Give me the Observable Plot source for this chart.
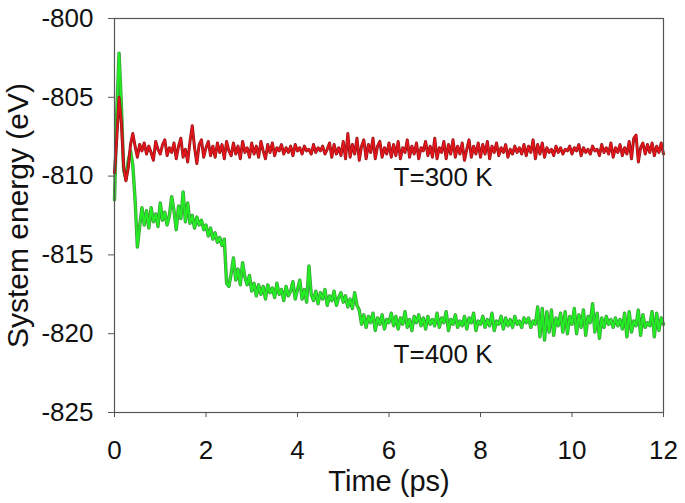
<!DOCTYPE html>
<html>
<head>
<meta charset="utf-8">
<script src="https://cdn.jsdelivr.net/npm/d3@7"></script>
<script src="https://cdn.jsdelivr.net/npm/@observablehq/plot@0.6"></script>
<style>
  html, body { margin: 0; padding: 0; background: #fff; }
  #chart { width: 685px; height: 503px; }
  svg { font-family: "Liberation Sans", Arial, sans-serif; }
</style>
</head>
<body>
<div id="chart"></div>
<script>
// ---- data ----
const timeStep = 0.05; // ps between samples
const xTicks = [0, 2, 4, 6, 8, 10, 12];
const yTicks = [-800, -805, -810, -815, -820, -825];
const xLabel = "Time (ps)";
const yLabel = "System energy (eV)";
const seriesNames = ["T=300 K", "T=400 K"];
const seriesColors = ["#e5141b", "#22ee22"];
const seriesEdge = ["#8c1a1a", "#3f9b3f"];
const annotX = [6.1, 6.1];
const annotY = [-810.1, -821.3];

const energy300 = [
  -809.8, -807.6, -805.0, -806.6, -809.4, -810.3, -809.5, -808.0, -807.3, -808.1, -808.8, -808.0, -808.4, -807.9, -808.6, -808.1, -808.5, -809.0, -807.8, -808.3,
  -808.6, -808.0, -807.7, -808.7, -808.2, -808.5, -807.9, -808.9, -808.1, -807.6, -808.8, -808.3, -809.1, -807.8, -806.8, -808.2, -809.2, -808.0, -807.7, -808.8,
  -808.2, -807.8, -808.7, -808.1, -808.8, -807.9, -808.5, -808.0, -808.9, -807.8, -808.4, -808.7, -807.9, -808.6, -808.1, -808.9, -807.8, -808.5, -808.2, -808.8,
  -807.9, -808.6, -808.1, -808.8, -807.8, -808.4, -808.9, -808.0, -808.5, -807.9, -808.7, -808.2, -808.4, -808.0, -808.6, -808.2, -808.5, -808.1, -808.7, -808.0,
  -808.4, -808.2, -808.6, -808.1, -808.4, -808.3, -808.6, -808.0, -808.5, -808.2, -808.4, -808.1, -808.6, -808.3, -807.9, -808.8, -808.0, -808.6, -808.2, -808.7,
  -807.8, -808.9, -807.3, -808.8, -808.0, -808.6, -807.6, -809.0, -808.1, -807.7, -808.9, -808.0, -808.5, -807.6, -808.9, -808.1, -807.8, -808.8, -808.2, -808.6,
  -807.9, -808.8, -808.0, -808.7, -807.8, -808.9, -808.2, -808.5, -807.7, -808.8, -808.1, -808.6, -807.9, -808.9, -808.2, -808.4, -807.8, -808.7, -808.1, -808.8,
  -807.6, -808.9, -808.2, -808.5, -807.8, -808.9, -808.0, -808.6, -807.7, -808.8, -808.1, -808.6, -807.9, -809.0, -808.3, -807.7, -808.8, -808.1, -808.6, -807.9,
  -808.8, -808.0, -808.6, -807.8, -808.9, -808.1, -808.5, -807.9, -808.7, -808.2, -808.5, -808.0, -808.8, -808.3, -808.6, -808.1, -808.5, -808.2, -808.6, -808.0,
  -808.7, -808.1, -808.5, -807.7, -808.9, -808.0, -808.6, -807.9, -808.8, -808.2, -808.5, -808.3, -808.7, -808.1, -808.5, -808.2, -808.6, -808.3, -808.4, -808.1,
  -808.6, -808.2, -808.4, -808.0, -808.7, -808.2, -808.5, -808.3, -808.6, -808.1, -808.4, -808.3, -808.7, -808.0, -808.5, -808.2, -808.6, -807.9, -808.8, -808.2,
  -808.5, -808.0, -808.7, -808.2, -808.6, -807.8, -808.9, -807.6, -807.4, -809.1, -808.2, -807.9, -808.6, -808.0, -808.5, -807.9, -808.7, -808.1, -808.5, -807.9,
  -808.6
];

const energy400 = [
  -811.5, -806.0, -802.2, -805.5, -809.6, -810.2, -809.0, -808.4, -809.3, -811.5, -814.5, -813.2, -812.0, -813.1, -812.2, -813.3, -812.0, -812.9, -812.4, -813.2,
  -811.7, -812.8, -812.3, -813.1, -812.5, -811.3, -812.2, -813.4, -811.9, -812.7, -811.0, -812.9, -811.7, -813.0, -812.5, -813.3, -812.6, -813.1, -812.8, -813.4,
  -813.1, -813.8, -813.3, -814.0, -813.6, -814.2, -813.9, -814.4, -814.0, -816.8, -817.0, -816.2, -815.2, -816.6, -815.9, -816.9, -815.5, -816.4, -816.9, -816.3,
  -817.3, -816.8, -817.6, -816.9, -817.5, -817.0, -817.8, -816.9, -817.4, -817.1, -817.7, -816.8, -817.5, -817.2, -817.9, -817.0, -817.6, -817.3, -816.7, -817.8,
  -817.2, -816.6, -817.8, -817.2, -818.0, -815.7, -817.5, -817.9, -817.3, -818.1, -817.4, -817.8, -817.2, -818.2, -817.6, -817.9, -817.3, -818.2, -817.7, -817.4,
  -818.0, -817.6, -818.3, -817.8, -818.4, -817.4, -818.2, -818.5, -819.4, -818.8, -819.6, -818.9, -819.3, -818.7, -819.8, -819.0, -819.4, -818.8, -819.7, -819.1,
  -819.3, -818.7, -819.5, -818.9, -819.7, -819.0, -819.4, -818.6, -819.6, -819.1, -819.8, -818.9, -819.3, -818.8, -819.5, -819.0, -819.7, -818.9, -819.4, -819.1,
  -819.5, -818.7, -819.6, -819.0, -819.3, -818.6, -819.8, -819.1, -819.4, -818.8, -819.6, -819.2, -819.5, -818.9, -819.7, -819.0, -819.3, -818.7, -819.8, -819.2,
  -819.4, -818.9, -819.6, -819.1, -819.5, -818.7, -819.8, -819.2, -819.4, -818.9, -819.7, -819.0, -819.5, -819.1, -819.6, -818.9, -819.4, -819.2, -819.6, -819.0,
  -819.3, -819.0, -819.6, -819.2, -819.4, -818.3, -820.2, -818.4, -820.4, -818.6, -819.9, -818.5, -820.1, -819.0, -819.5, -818.7, -819.9, -818.6, -820.0, -818.9,
  -819.4, -818.4, -820.0, -818.8, -819.6, -818.5, -820.1, -818.9, -819.3, -818.1, -819.9, -818.7, -820.3, -819.0, -819.6, -818.9, -819.4, -819.1, -819.6, -819.0,
  -819.5, -819.1, -819.7, -818.7, -820.2, -818.6, -819.9, -819.2, -819.5, -818.5, -820.1, -818.8, -819.6, -819.3, -819.5, -818.6, -820.2, -818.7, -819.8, -819.0,
  -819.4
];

// ---- build table ----
const rows300 = energy300.map((e, i) => ({t: i * timeStep, e}));
const rows400 = energy400.map((e, i) => ({t: i * timeStep, e}));
const annots = seriesNames.map((name, i) => ({name, x: annotX[i], y: annotY[i]}));
const hyphen = d => String(d);

const chart = Plot.plot({
  width: 685,
  height: 503,
  marginLeft: 114,
  marginRight: 22,
  marginTop: 18,
  marginBottom: 91,
  style: {fontFamily: '"Liberation Sans", Arial, sans-serif', color: "#111", background: "#fff"},
  x: {domain: [0, 12]},
  y: {domain: [-825, -800]},
  marks: [
    Plot.line(rows400, {x: "t", y: "e", stroke: seriesEdge[1], strokeWidth: 3.4}),
    Plot.line(rows400, {x: "t", y: "e", stroke: seriesColors[1], strokeWidth: 1.9}),
    Plot.line(rows300, {x: "t", y: "e", stroke: seriesEdge[0], strokeWidth: 3.0}),
    Plot.line(rows300, {x: "t", y: "e", stroke: seriesColors[0], strokeWidth: 1.7}),
    Plot.frame({stroke: "#555", strokeWidth: 1.2}),
    Plot.axisX({ticks: xTicks, tickFormat: hyphen, tickSize: 5, tickPadding: 23, fontSize: 26, label: null, stroke: "#555"}),
    Plot.axisY({ticks: yTicks, tickFormat: hyphen, tickSize: 6, tickPadding: 15, fontSize: 26, label: null, stroke: "#555"}),
    Plot.axisX({ticks: [], label: xLabel, labelAnchor: "center", labelOffset: 78, labelArrow: "none", fontSize: 29}),
    Plot.axisY({ticks: [], label: yLabel, labelAnchor: "center", labelOffset: 108, labelArrow: "none", fontSize: 30}),
    Plot.text(annots, {x: "x", y: "y", text: "name", textAnchor: "start", fontSize: 26, fill: "#111"})
  ]
});
document.getElementById("chart").appendChild(chart);
</script>
</body>
</html>
